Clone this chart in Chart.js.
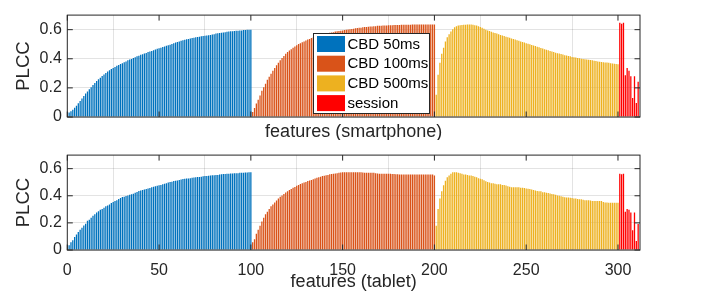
<!DOCTYPE html>
<html>
<head>
<meta charset="utf-8">
<script src="https://cdn.jsdelivr.net/npm/chart.js@4.4.0/dist/chart.umd.min.js"></script>
<style>
  body { margin: 0; background: #fff; }
  #wrap { position: relative; width: 716px; height: 297px; }
  canvas { position: absolute; left: 0; }
  #c1 { top: 0; }
  #c2 { top: 140px; }
</style>
</head>
<body>
<div id="wrap">
  <canvas id="c1" width="716" height="140"></canvas>
  <canvas id="c2" width="716" height="157"></canvas>
</div>
<script>
// series labels / colours (MATLAB default order)
const seriesNames = ['CBD 50ms', 'CBD 100ms', 'CBD 500ms', 'session'];
const seriesColors = ['#0072BD', '#D95319', '#EDB120', '#FF0000'];
const segStart = [1, 101, 201, 301];
const xTicks = [0, 50, 100, 150, 200, 250, 300];
const yTicks = [0, 0.2, 0.4, 0.6];

// smartphone
const phone50 = [
  0.031,0.039,0.049,0.063,0.078,0.094,0.110,0.127,0.145,0.162,
  0.176,0.190,0.204,0.219,0.233,0.247,0.260,0.270,0.282,0.292,
  0.303,0.313,0.321,0.329,0.337,0.344,0.352,0.358,0.364,0.370,
  0.376,0.382,0.389,0.395,0.399,0.405,0.411,0.417,0.421,0.427,
  0.431,0.436,0.440,0.446,0.450,0.454,0.458,0.464,0.468,0.472,
  0.476,0.481,0.485,0.489,0.493,0.497,0.501,0.507,0.511,0.515,
  0.519,0.524,0.528,0.530,0.534,0.536,0.540,0.542,0.544,0.548,
  0.550,0.552,0.554,0.556,0.558,0.560,0.562,0.564,0.566,0.569,
  0.573,0.575,0.577,0.579,0.581,0.583,0.585,0.587,0.589,0.589,
  0.591,0.593,0.593,0.595,0.595,0.597,0.597,0.599,0.599,0.599];
const phone100 = [
  0.035,0.061,0.092,0.119,0.147,0.180,0.204,0.229,0.256,0.276,
  0.297,0.317,0.337,0.356,0.372,0.389,0.405,0.419,0.434,0.446,
  0.456,0.466,0.476,0.485,0.493,0.501,0.507,0.513,0.519,0.526,
  0.532,0.536,0.542,0.546,0.550,0.554,0.558,0.562,0.566,0.569,
  0.573,0.577,0.579,0.581,0.583,0.587,0.589,0.591,0.593,0.595,
  0.597,0.599,0.601,0.603,0.605,0.607,0.609,0.611,0.613,0.613,
  0.616,0.618,0.618,0.620,0.622,0.622,0.624,0.624,0.626,0.626,
  0.626,0.628,0.628,0.628,0.630,0.630,0.630,0.632,0.632,0.632,
  0.632,0.634,0.634,0.634,0.634,0.634,0.634,0.636,0.636,0.636,
  0.636,0.636,0.636,0.636,0.636,0.636,0.636,0.636,0.636,0.636];
const phone500 = [
  0.153,0.290,0.372,0.434,0.476,0.519,0.548,0.569,0.587,0.603,
  0.616,0.624,0.628,0.630,0.632,0.634,0.634,0.636,0.636,0.636,
  0.634,0.630,0.628,0.624,0.618,0.613,0.607,0.599,0.595,0.591,
  0.585,0.581,0.577,0.573,0.569,0.564,0.560,0.556,0.552,0.548,
  0.544,0.540,0.536,0.532,0.528,0.524,0.519,0.515,0.511,0.507,
  0.503,0.499,0.495,0.491,0.487,0.483,0.479,0.474,0.470,0.466,
  0.462,0.458,0.454,0.450,0.446,0.442,0.438,0.436,0.432,0.429,
  0.425,0.423,0.419,0.417,0.413,0.411,0.409,0.405,0.403,0.401,
  0.399,0.397,0.395,0.393,0.391,0.389,0.386,0.384,0.382,0.380,
  0.378,0.376,0.374,0.374,0.372,0.370,0.368,0.366,0.364,0.362];
const phoneSession = [0.648,0.640,0.648,0.286,0.336,0.317,0.280,0.130,0.280,0.096,0.243];

// tablet
const tab50 = [
  0.035,0.057,0.072,0.096,0.115,0.133,0.150,0.165,0.180,0.193,
  0.215,0.224,0.237,0.252,0.263,0.276,0.285,0.296,0.302,0.311,
  0.322,0.328,0.335,0.346,0.354,0.361,0.367,0.376,0.383,0.391,
  0.393,0.398,0.402,0.407,0.411,0.415,0.422,0.428,0.435,0.439,
  0.443,0.447,0.450,0.453,0.458,0.463,0.466,0.470,0.474,0.478,
  0.480,0.485,0.489,0.493,0.498,0.502,0.504,0.509,0.511,0.513,
  0.517,0.520,0.524,0.526,0.528,0.528,0.530,0.533,0.535,0.537,
  0.539,0.539,0.541,0.544,0.546,0.546,0.548,0.550,0.552,0.552,
  0.554,0.554,0.557,0.559,0.561,0.561,0.563,0.563,0.565,0.565,
  0.567,0.567,0.567,0.570,0.570,0.570,0.572,0.572,0.574,0.574];
const tab100 = [
  0.057,0.080,0.120,0.150,0.178,0.211,0.237,0.263,0.283,0.302,
  0.322,0.335,0.350,0.365,0.380,0.393,0.402,0.413,0.424,0.433,
  0.443,0.450,0.459,0.465,0.474,0.480,0.487,0.493,0.498,0.502,
  0.509,0.513,0.517,0.522,0.528,0.533,0.537,0.541,0.546,0.548,
  0.552,0.554,0.559,0.561,0.563,0.565,0.567,0.570,0.572,0.574,
  0.574,0.574,0.574,0.574,0.574,0.574,0.574,0.574,0.574,0.574,
  0.572,0.570,0.570,0.570,0.570,0.570,0.570,0.567,0.565,0.563,
  0.563,0.563,0.563,0.563,0.563,0.563,0.561,0.561,0.559,0.559,
  0.557,0.557,0.557,0.557,0.557,0.557,0.557,0.557,0.557,0.557,
  0.557,0.557,0.557,0.557,0.557,0.557,0.557,0.557,0.557,0.550];
const tab500 = [
  0.178,0.302,0.380,0.433,0.478,0.511,0.537,0.550,0.563,0.574,
  0.574,0.574,0.570,0.567,0.563,0.557,0.557,0.554,0.550,0.550,
  0.546,0.541,0.537,0.530,0.526,0.522,0.515,0.507,0.502,0.498,
  0.493,0.493,0.489,0.485,0.485,0.485,0.480,0.480,0.476,0.470,
  0.467,0.463,0.463,0.463,0.463,0.463,0.459,0.459,0.457,0.454,
  0.452,0.450,0.446,0.443,0.439,0.435,0.433,0.433,0.426,0.426,
  0.422,0.420,0.417,0.413,0.411,0.407,0.402,0.400,0.396,0.393,
  0.389,0.387,0.387,0.385,0.383,0.380,0.380,0.376,0.374,0.374,
  0.370,0.367,0.367,0.367,0.365,0.361,0.361,0.361,0.361,0.361,
  0.361,0.354,0.350,0.350,0.348,0.348,0.348,0.348,0.348,0.348];
const tabSession = [0.563,0.559,0.563,0.283,0.302,0.296,0.276,0.146,0.276,0.067,0.191];

const axisColor = '#262626';
const gridColor = 'rgba(38,38,38,0.13)';
const fontFam = '"Liberation Sans", Arial, Helvetica, sans-serif';

// box + inward tick marks like MATLAB
const boxPlugin = {
  id: 'box',
  afterDraw(chart) {
    const {ctx, chartArea: a, scales} = chart;
    ctx.save();
    ctx.strokeStyle = axisColor;
    ctx.lineWidth = 1;
    ctx.strokeRect(a.left, a.top, a.right - a.left, a.bottom - a.top);
    const len = 5.5;
    ctx.beginPath();
    xTicks.forEach(v => {
      const x = scales.x.getPixelForValue(v);
      ctx.moveTo(x, a.bottom); ctx.lineTo(x, a.bottom - len);
      ctx.moveTo(x, a.top); ctx.lineTo(x, a.top + len);
    });
    yTicks.forEach(v => {
      const y = scales.y.getPixelForValue(v);
      ctx.moveTo(a.left, y); ctx.lineTo(a.left + len, y);
      ctx.moveTo(a.right, y); ctx.lineTo(a.right - len, y);
    });
    ctx.stroke();
    ctx.restore();
  }
};

// boxed legend sitting inside the top axes
const legendBox = {
  id: 'legendBox',
  afterDraw(chart, args, opts) {
    if (!opts.show) return;
    const {ctx} = chart;
    const bx = 313.5, by = 33.5, bw = 116, bh = 80;
    ctx.save();
    ctx.fillStyle = '#fff';
    ctx.fillRect(bx, by, bw, bh);
    ctx.strokeStyle = axisColor;
    ctx.lineWidth = 1;
    ctx.strokeRect(bx, by, bw, bh);
    ctx.font = '15px ' + fontFam;
    ctx.textBaseline = 'middle';
    ctx.fillStyle = '#000';
    seriesNames.forEach((name, i) => {
      const cy = by + 10.5 + i * 19.7;
      ctx.fillStyle = seriesColors[i];
      ctx.fillRect(bx + 3.5, cy - 8, 28, 16);
      ctx.fillStyle = '#000';
      ctx.fillText(name, bx + 34, cy + 0.5);
    });
    ctx.restore();
  }
};

function buildDatasets(groups) {
  return groups.map((vals, i) => ({
    label: seriesNames[i],
    data: vals.map((v, k) => ({x: segStart[i] + k, y: v})),
    backgroundColor: seriesColors[i],
    barThickness: 1.3,
    inflateAmount: 0,
    borderWidth: 0,
    grouped: false
  }));
}

function makeChart(id, groups, title, showXLabels, padTop, xHeight, showLegend, titlePad) {
  return new Chart(document.getElementById(id), {
    type: 'bar',
    data: {datasets: buildDatasets(groups)},
    options: {
      responsive: false,
      animation: false,
      devicePixelRatio: 1,
      layout: {padding: {left: 0, right: 76, top: padTop, bottom: 0}},
      plugins: {
        legend: {display: false},
        tooltip: {enabled: false},
        legendBox: {show: showLegend}
      },
      scales: {
        x: {
          type: 'linear', min: 0, max: 312, offset: false,
          afterBuildTicks: s => { s.ticks = xTicks.map(v => ({value: v})); },
          afterFit: s => { s.height = xHeight; },
          grid: {color: gridColor, drawTicks: false, lineWidth: 1},
          border: {display: false},
          ticks: {display: showXLabels, color: axisColor, padding: 11, maxRotation: 0,
                  font: {family: fontFam, size: 16}},
          title: {display: true, text: title, color: axisColor,
                  font: {family: fontFam, size: 18, lineHeight: 1.2}, padding: titlePad}
        },
        y: {
          min: 0, max: 0.7,
          afterBuildTicks: s => { s.ticks = yTicks.map(v => ({value: v})); },
          afterFit: s => { s.width = 67.3; },
          grid: {color: gridColor, drawTicks: false, lineWidth: 1},
          border: {display: false},
          ticks: {color: axisColor, padding: 5.5, font: {family: fontFam, size: 16},
                  callback: v => String(Math.round(v * 10) / 10)},
          title: {display: true, text: 'PLCC', color: axisColor,
                  font: {family: fontFam, size: 18.5, lineHeight: 1.2}, padding: {top: 13, bottom: 0}}
        }
      }
    },
    plugins: [boxPlugin, legendBox]
  });
}

makeChart('c1', [phone50, phone100, phone500, phoneSession], 'features (smartphone)', false, 4, 23, true, {top: 0, bottom: -3});
makeChart('c2', [tab50, tab100, tab500, tabSession], 'features (tablet)', true, 3, 47, false, {top: 0, bottom: 4});
</script>
</body>
</html>
